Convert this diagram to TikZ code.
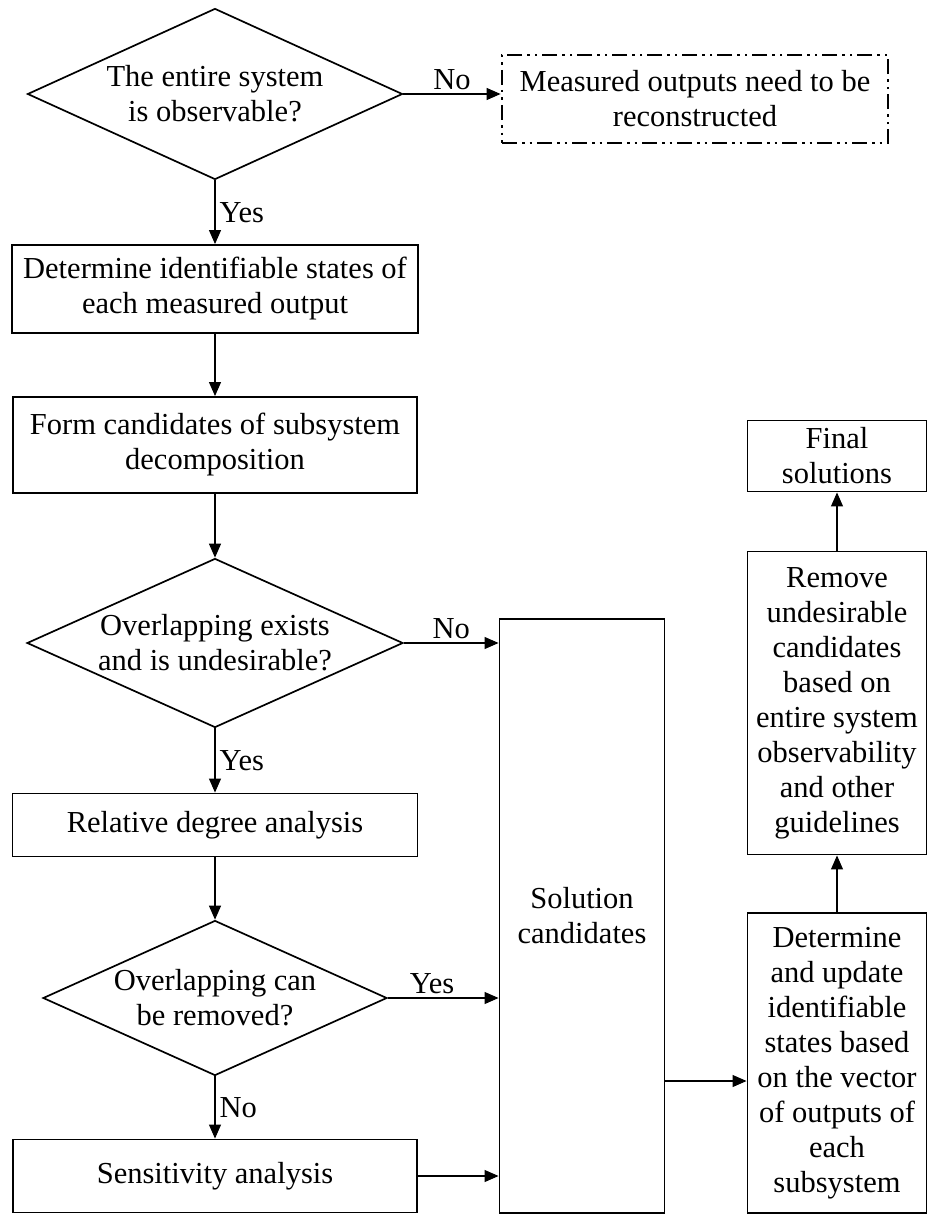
\documentclass[tikz,border=0pt]{standalone}
\usepackage{fontspec}
\setmainfont{Liberation Serif}
\usetikzlibrary{shapes.geometric,arrows.meta}

\begin{document}
\begin{tikzpicture}[x=1pt, y=-1pt,
  font=\fontsize{30.5}{35}\selectfont,
  boxstyle/.style={draw=black, line width=1.9pt, rectangle, inner sep=0pt, align=center},
  decstyle/.style={draw=black, line width=1.7pt, diamond, inner sep=0pt, align=center},
  dashstyle/.style={boxstyle, line width=2.8pt, dash pattern=on 15pt off 5pt on 2.5pt off 5pt on 2.5pt off 5pt},
  arrstyle/.style={line width=1.1pt, -{Triangle[length=14pt,width=12pt]}},
  lblstyle/.style={black, inner sep=4pt}]

  \useasboundingbox (0,0) rectangle (929,1215);

  \def\xleft{215}
  \def\xright{837}

  \node[decstyle, minimum width=375pt, minimum height=171pt, aspect=2.2] (observable) at (\xleft,94) {The entire system\\is observable?};
  \node[dashstyle, minimum width=386pt, minimum height=88pt] (recon) at (695,99) {Measured outputs need to be\\reconstructed};

  \node[boxstyle, minimum width=406pt, minimum height=88pt] (identstates) at (\xleft,289) {Determine identifiable states of\\each measured output};
  \node[boxstyle, minimum width=404pt, minimum height=96pt] (formcand) at (\xleft,445) {Form candidates of subsystem\\decomposition};
  \node[decstyle, minimum width=376pt, minimum height=169pt, aspect=2.2] (overlap) at (\xleft,643) {Overlapping exists\\and is undesirable?};
  \node[boxstyle, minimum width=405pt, minimum height=63pt] (reldegree) at (\xleft,825) {Relative degree analysis};
  \node[decstyle, minimum width=344pt, minimum height=155pt, aspect=2.2] (removable) at (\xleft,998) {Overlapping can\\be removed?};
  \node[boxstyle, minimum width=404pt, minimum height=73pt] (sensitivity) at (\xleft,1176) {Sensitivity analysis};

  \node[boxstyle, minimum width=165pt, minimum height=594pt] (solcand) at (582,916) {Solution\\candidates};

  \node[boxstyle, minimum width=179pt, minimum height=300pt] (detupdate) at (\xright,1063) {Determine\\and update\\identifiable\\states based\\on the vector\\of outputs of\\each\\subsystem};
  \node[boxstyle, minimum width=179pt, minimum height=303pt] (removecand) at (\xright,703) {Remove\\undesirable\\candidates\\based on\\entire system\\observability\\and other\\guidelines};
  \node[boxstyle, minimum width=179pt, minimum height=71pt] (finalsol) at (\xright,456) {Final\\solutions};

  \draw[arrstyle] (observable.east) -- (observable.east -| recon.west) node[lblstyle, midway, above] (noobs) {No};
  \draw[arrstyle] (observable.south) -- (identstates.north) node[lblstyle, midway, right] (yesobs) {Yes};
  \draw[arrstyle] (identstates.south) -- (formcand.north);
  \draw[arrstyle] (formcand.south) -- (overlap.north);
  \draw[arrstyle] (overlap.east) -- (overlap.east -| solcand.west) node[lblstyle, midway, above] (nooverlap) {No};
  \draw[arrstyle] (overlap.south) -- (reldegree.north) node[lblstyle, midway, right] (yesoverlap) {Yes};
  \draw[arrstyle] (reldegree.south) -- (removable.north);
  \draw[arrstyle] (removable.east) -- (removable.east -| solcand.west) node[lblstyle, pos=0.4, above] (yesremov) {Yes};
  \draw[arrstyle] (removable.south) -- (sensitivity.north) node[lblstyle, midway, right] (noremov) {No};
  \draw[arrstyle] (sensitivity.east) -- (sensitivity.east -| solcand.west);

  \draw[arrstyle] ([yshift=-165pt]solcand.east) -- ([yshift=-165pt]solcand.east -| detupdate.west);
  \draw[arrstyle] (detupdate.north) -- (removecand.south);
  \draw[arrstyle] (removecand.north) -- (finalsol.south);

\end{tikzpicture}
\end{document}
